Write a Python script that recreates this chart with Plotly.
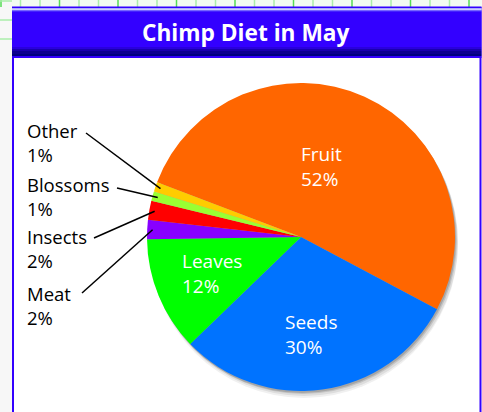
import math
import plotly.graph_objects as go

# ---- data ----
categories = ["Fruit", "Seeds", "Leaves", "Meat", "Insects", "Blossoms", "Other"]
values = [52, 30, 12, 2, 2, 1, 1]
colors = ["#FF6600", "#0073FF", "#00FF00", "#8800FF", "#FF0000", "#99FF33", "#FFCC00"]
title_text = "Chimp Diet in May"

W, H = 482, 412
CX, CY, R = 301, 237, 154          # pie centre / radius in pixels
START_DEG = 159.2                  # standard angle where the first slice starts

def px(x):
    return x / W

def py(y):
    return 1 - y / H

shapes = []
# top decorative grid strip
shapes.append(dict(type="rect", xref="paper", yref="paper", x0=0, x1=1, y0=py(7), y1=1,
                   fillcolor="#f2fbf2", line=dict(width=0), layer="below"))
shapes.append(dict(type="rect", xref="paper", yref="paper", x0=0, x1=px(12), y0=0, y1=1,
                   fillcolor="#f7f7f7", line=dict(width=0), layer="below"))
gx = 1.0
i = 0
while gx < W:
    col = "#55dd55" if i % 3 == 0 else "#aaeeaa"
    shapes.append(dict(type="line", xref="paper", yref="paper", x0=px(gx), x1=px(gx),
                       y0=py(7), y1=1, line=dict(color=col, width=1.5), layer="below"))
    gx += 19.5
    i += 1
for gy in [1, 20, 39]:
    shapes.append(dict(type="line", xref="paper", yref="paper", x0=0, x1=px(12),
                       y0=py(gy), y1=py(gy), line=dict(color="#aaeeaa", width=1.5), layer="below"))

# frame border
shapes.append(dict(type="rect", xref="paper", yref="paper", x0=px(13), x1=px(480.5),
                   y0=py(420), y1=py(7.5), fillcolor="white",
                   line=dict(color="#3300FF", width=2), layer="below"))
# title bar with gradient bands
bands = [(7, 8, "#3300FF"), (8, 9, "#aaaaff"), (9, 10, "#ccccff"), (10, 11, "#7766ff"),
         (11, 12, "#4422ff"), (12, 47, "#3300FF"), (47, 49, "#2a00dd"), (49, 51, "#1a00b0"),
         (51, 54, "#0d0090"), (54, 56, "#000080"), (56, 58, "#3300FF")]
for y0, y1, c in bands:
    shapes.append(dict(type="rect", xref="paper", yref="paper", x0=px(12), x1=px(481.5),
                       y0=py(y1), y1=py(y0), fillcolor=c, line=dict(width=0), layer="below"))

fig = go.Figure()

# soft drop shadow (stacked grey discs)
for dx, dy, c in [(3, 7, "rgba(0,0,0,0.06)"), (3, 5, "rgba(0,0,0,0.08)"),
                  (2, 3, "rgba(0,0,0,0.12)"), (1, 2, "rgba(0,0,0,0.15)")]:
    fig.add_trace(go.Pie(values=[1], marker=dict(colors=[c], line=dict(width=0)),
                         textinfo="none", hoverinfo="skip", sort=False, showlegend=False,
                         domain=dict(x=[px(CX - R + dx), px(CX + R + dx)],
                                     y=[py(CY + R + dy), py(CY - R + dy)])))

rotation = 90 - START_DEG
fig.add_trace(go.Pie(
    labels=categories, values=values, sort=False, direction="clockwise",
    rotation=rotation, textinfo="none", showlegend=False,
    marker=dict(colors=colors, line=dict(width=0)),
    domain=dict(x=[px(CX - R), px(CX + R)], y=[py(CY + R), py(CY - R)]),
))

FONT = "Open Sans"
annotations = []
annotations.append(dict(text="<b>" + title_text + "</b>", x=px(246), y=py(33), xref="paper",
                        yref="paper", showarrow=False, xanchor="center", yanchor="middle",
                        font=dict(family=FONT, size=22.7, color="white")))

# label layout: left x, block centre y (px)
inside_pos = {"Fruit": (299, 166), "Seeds": (283, 334), "Leaves": (180, 273)}
outside_pos = {"Other": (25, 142), "Blossoms": (25, 196), "Insects": (25, 249), "Meat": (25, 305)}
# leader line start points (px)
leader_start = {"Other": (86, 133), "Blossoms": (117, 188), "Insects": (94, 238), "Meat": (82, 293)}

def add_label(text, x, y, color, size):
    annotations.append(dict(text=text, x=px(x), y=py(y), xref="paper", yref="paper",
                            showarrow=False, xanchor="left", yanchor="middle", align="left",
                            font=dict(family=FONT, size=size, color=color)))

total = sum(values)
cum = 0
for cat, v in zip(categories, values):
    a0 = START_DEG - 360 * cum / total
    a1 = START_DEG - 360 * (cum + v) / total
    mid = math.radians((a0 + a1) / 2)
    cum += v
    pct = f"{round(100 * v / total)}%"
    if cat in inside_pos:
        lx, ly = inside_pos[cat]
        add_label(f"{cat}<br>{pct}", lx, ly, "white", 19)
    else:
        lx, ly = outside_pos[cat]
        add_label(f"{cat}<br>{pct}", lx, ly, "black", 18.5)
        sx, sy = leader_start[cat]
        ex = CX + 0.965 * R * math.cos(mid)
        ey = CY - 0.965 * R * math.sin(mid)
        shapes.append(dict(type="line", xref="paper", yref="paper", x0=px(sx), y0=py(sy),
                           x1=px(ex), y1=py(ey), line=dict(color="black", width=1.5),
                           layer="above"))

fig.update_layout(width=W, height=H, autosize=False, margin=dict(l=0, r=0, t=0, b=0),
                  paper_bgcolor="white", plot_bgcolor="white",
                  shapes=shapes, annotations=annotations)

fig.write_html("out.html", config={"displayModeBar": False},
               post_script="document.body.style.margin='0';document.body.style.overflow='hidden';")
